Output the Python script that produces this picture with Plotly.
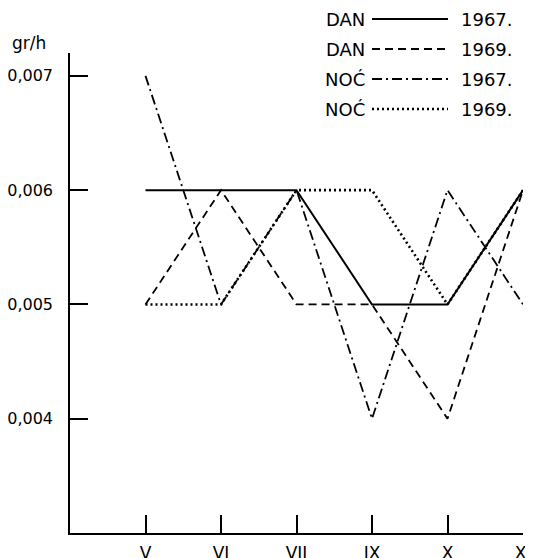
import plotly.graph_objects as go

# --- data ---
months = ["V", "VI", "VII", "IX", "X", "XI"]
month_pos = [1, 2, 3, 4, 5, 6]
dan_1967 = [0.006, 0.006, 0.006, 0.005, 0.005, 0.006]
dan_1969 = [0.005, 0.006, 0.005, 0.005, 0.004, 0.006]
noc_1967 = [0.007, 0.005, 0.006, 0.004, 0.006, 0.005]
noc_1969 = [0.005, 0.005, 0.006, 0.006, 0.005, 0.006]
y_ticks = [0.004, 0.005, 0.006, 0.007]

# page body adds an 8px margin, so the layout is shifted back by that much
OFF = 8
W, H = 533, 558
L, T = 70 - OFF, 53 - OFF
R, B = W - (523 - OFF), H - (533 - OFF)
PW, PH = W - L - R, H - T - B


def px(x):
    # screen pixel -> paper x
    return (x - OFF - L) / PW


def py(y):
    # screen pixel -> paper y
    return (H - B - (y - OFF)) / PH


FONT = "DejaVu Sans"
series = [
    ("DAN", "1967.", dan_1967, dict(color="black", width=2)),
    ("DAN", "1969.", dan_1969, dict(color="black", width=1.8, dash="8px,5px")),
    ("NOĆ", "1967.", noc_1967, dict(color="black", width=1.8, dash="10px,4px,2px,4px")),
    ("NOĆ", "1969.", noc_1969, dict(color="black", width=2.6, dash="2px,3px")),
]

fig = go.Figure()
for label, year, vals, line in series:
    fig.add_trace(go.Scatter(x=month_pos, y=vals, mode="lines", line=line,
                             name=f"{label} {year}", showlegend=False))

# hand-made legend: text, line sample, year
shapes = []
annotations = []
for i, (label, year, vals, line) in enumerate(series):
    yy = py(19 + i * 30)
    annotations.append(dict(x=px(367), y=yy, xref="paper", yref="paper", text=label,
                            showarrow=False, xanchor="right", yanchor="middle",
                            font=dict(family=FONT, size=18, color="black")))
    annotations.append(dict(x=px(459), y=yy, xref="paper", yref="paper", text=year,
                            showarrow=False, xanchor="left", yanchor="middle",
                            font=dict(family=FONT, size=18, color="black")))
    shapes.append(dict(type="line", xref="paper", yref="paper",
                       x0=px(372), x1=px(448), y0=yy, y1=yy, line=line))

annotations.append(dict(x=px(10), y=py(43), xref="paper", yref="paper", text="gr/h",
                        showarrow=False, xanchor="left", yanchor="middle",
                        font=dict(family=FONT, size=17, color="black")))

fig.update_xaxes(range=[0, 6], tickvals=month_pos, ticktext=months,
                 ticks="inside", ticklen=18, tickwidth=1.5, tickcolor="black",
                 showline=True, linecolor="black", linewidth=1.5, automargin=False,
                 showgrid=False, zeroline=False, ticklabelstandoff=4,
                 tickfont=dict(family=FONT, size=17, color="black"))
fig.update_yaxes(range=[0.003, 0.0072], tickvals=y_ticks, tickformat=".3f",
                 ticks="inside", ticklen=18, tickwidth=1.5, tickcolor="black",
                 showline=True, linecolor="black", linewidth=1.5, automargin=False,
                 showgrid=False, zeroline=False, ticklabelstandoff=12,
                 tickfont=dict(family=FONT, size=16, color="black"))

fig.update_layout(
    width=W, height=H,
    margin=dict(l=L, r=R, t=T, b=B),
    paper_bgcolor="white", plot_bgcolor="white",
    separators=",.",
    shapes=shapes, annotations=annotations,
    showlegend=False,
)

fig.write_html("out.html")
